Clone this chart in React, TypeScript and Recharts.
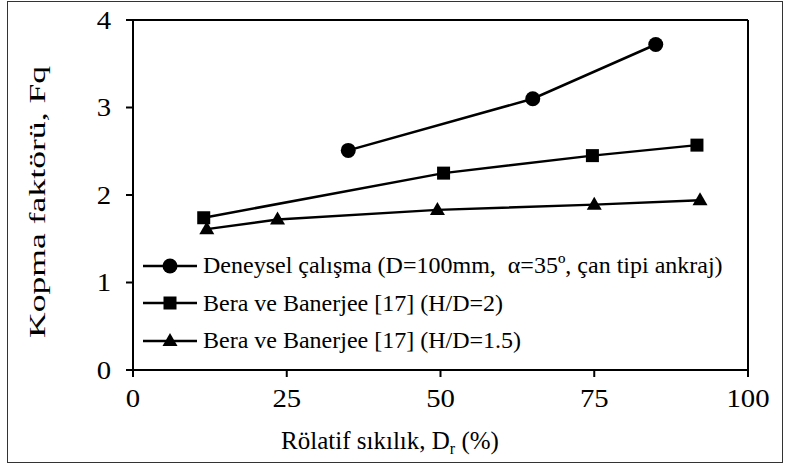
import { LineChart, Line, XAxis, YAxis, ReferenceLine, Label } from "recharts"

const expX = [35, 65, 85]
const expY = [2.51, 3.1, 3.72]
const hd2X = [11.5, 50.5, 74.7, 91.7]
const hd2Y = [1.74, 2.25, 2.45, 2.57]
const hd15X = [12, 23.5, 49.5, 75, 92.2]
const hd15Y = [1.61, 1.72, 1.83, 1.89, 1.94]

const xTicks = [0, 25, 50, 75, 100]
const yTicks = [0, 1, 2, 3, 4]

const seriesNames = [
  "Deneysel çalışma (D=100mm,  α=35º, çan tipi ankraj)",
  "Bera ve Banerjee [17] (H/D=2)",
  "Bera ve Banerjee [17] (H/D=1.5)",
]

const toRows = (xs: number[], ys: number[]) => xs.map((x, i) => ({ x, y: ys[i] }))

const FONT = "'Liberation Serif', 'Times New Roman', serif"

function CircleDot(props: any) {
  const { cx, cy } = props
  if (cx == null || cy == null) return null
  return <circle cx={cx} cy={cy} r={7.5} fill="#000" />
}
function SquareDot(props: any) {
  const { cx, cy } = props
  if (cx == null || cy == null) return null
  return <rect x={cx - 6.5} y={cy - 6.5} width={13} height={13} fill="#000" />
}
function TriangleDot(props: any) {
  const { cx, cy } = props
  if (cx == null || cy == null) return null
  return <polygon points={`${cx},${cy - 8} ${cx + 7.5},${cy + 5} ${cx - 7.5},${cy + 5}`} fill="#000" />
}

const markers = [CircleDot, SquareDot, TriangleDot]

function LegendBox() {
  return (
    <div
      style={{
        position: "absolute",
        left: 143,
        top: 247,
        fontFamily: FONT,
        fontSize: 24,
        color: "#000",
      }}
    >
      {seriesNames.map((name, i) => {
        const Dot = markers[i]
        return (
          <div key={name} style={{ display: "flex", alignItems: "center", height: 37.5, whiteSpace: "pre" }}>
            <svg width={56} height={20} style={{ marginRight: 4 }}>
              <line x1={0} y1={10} x2={54} y2={10} stroke="#000" strokeWidth={2.5} />
              <Dot cx={27} cy={10} />
            </svg>
            <span>{name}</span>
          </div>
        )
      })}
    </div>
  )
}

function XTick(props: any) {
  const { x, y, payload } = props
  return (
    <g transform={`translate(${x},${y + 28})`}>
      <text x={0} y={0} textAnchor="middle" transform="scale(1.15,1)" fill="#000" style={{ fontFamily: FONT, fontSize: 25 }}>
        {payload.value}
      </text>
    </g>
  )
}

function YTick(props: any) {
  const { x, y, payload } = props
  return (
    <g transform={`translate(${x - 13},${y + 8.5})`}>
      <text x={0} y={0} textAnchor="end" transform="scale(1.15,1)" fill="#000" style={{ fontFamily: FONT, fontSize: 25 }}>
        {payload.value}
      </text>
    </g>
  )
}

function XTitle(props: any) {
  const vb = props.viewBox || {}
  return (
    <text x={390} y={vb.y + 79} textAnchor="middle" fill="#000" style={{ fontFamily: FONT, fontSize: 25 }}>
      Rölatif sıkılık, D
      <tspan style={{ fontSize: 16 }} dy={5}>r</tspan>
      <tspan dy={-5}> (%)</tspan>
    </text>
  )
}

function YTitle(props: any) {
  const vb = props.viewBox || {}
  const cy = vb.y + vb.height / 2 + 7
  return (
    <g transform={`translate(37,${cy}) rotate(-90)`}>
      <text
        x={0}
        y={0}
        textAnchor="middle"
        dominantBaseline="central"
        transform="scale(1.55,1)"
        fill="#000"
        style={{ fontFamily: FONT, fontSize: 23 }}
      >
        Kopma faktörü, Fq
      </text>
    </g>
  )
}

export default function App() {
  return (
    <div
      style={{
        position: "absolute",
        left: 0,
        top: 0,
        width: 787,
        height: 466,
        background: "#fff",
        fontFamily: FONT,
      }}
    >
      <div
        style={{
          position: "absolute",
          left: 7,
          top: 1,
          width: 776,
          height: 462,
          boxSizing: "border-box",
          border: "1.5px solid #333",
        }}
      />
      <LineChart
        width={787}
        height={466}
        margin={{ top: 20, right: 39, left: 73, bottom: 66 }}
        style={{ position: "absolute", left: 0, top: 0 }}
      >
        <XAxis
          type="number"
          dataKey="x"
          domain={[0, 100]}
          ticks={xTicks}
          height={30}
          allowDataOverflow
          stroke="#000"
          strokeWidth={2}
          tickSize={7}
          tick={<XTick />}
        >
          <Label content={<XTitle />} />
        </XAxis>
        <YAxis
          type="number"
          dataKey="y"
          domain={[0, 4]}
          ticks={yTicks}
          width={60}
          stroke="#000"
          strokeWidth={2}
          tickSize={7}
          tick={<YTick />}
        >
          <Label content={<YTitle />} />
        </YAxis>
        <ReferenceLine y={4} stroke="#000" strokeWidth={2} />
        <ReferenceLine x={100} stroke="#000" strokeWidth={2} />
        <Line
          data={toRows(expX, expY)}
          dataKey="y"
          name={seriesNames[0]}
          stroke="#000"
          strokeWidth={2.5}
          dot={<CircleDot />}
          activeDot={false}
          isAnimationActive={false}
        />
        <Line
          data={toRows(hd2X, hd2Y)}
          dataKey="y"
          name={seriesNames[1]}
          stroke="#000"
          strokeWidth={2.5}
          dot={<SquareDot />}
          activeDot={false}
          isAnimationActive={false}
        />
        <Line
          data={toRows(hd15X, hd15Y)}
          dataKey="y"
          name={seriesNames[2]}
          stroke="#000"
          strokeWidth={2.5}
          dot={<TriangleDot />}
          activeDot={false}
          isAnimationActive={false}
        />
      </LineChart>
      <LegendBox />
    </div>
  )
}
